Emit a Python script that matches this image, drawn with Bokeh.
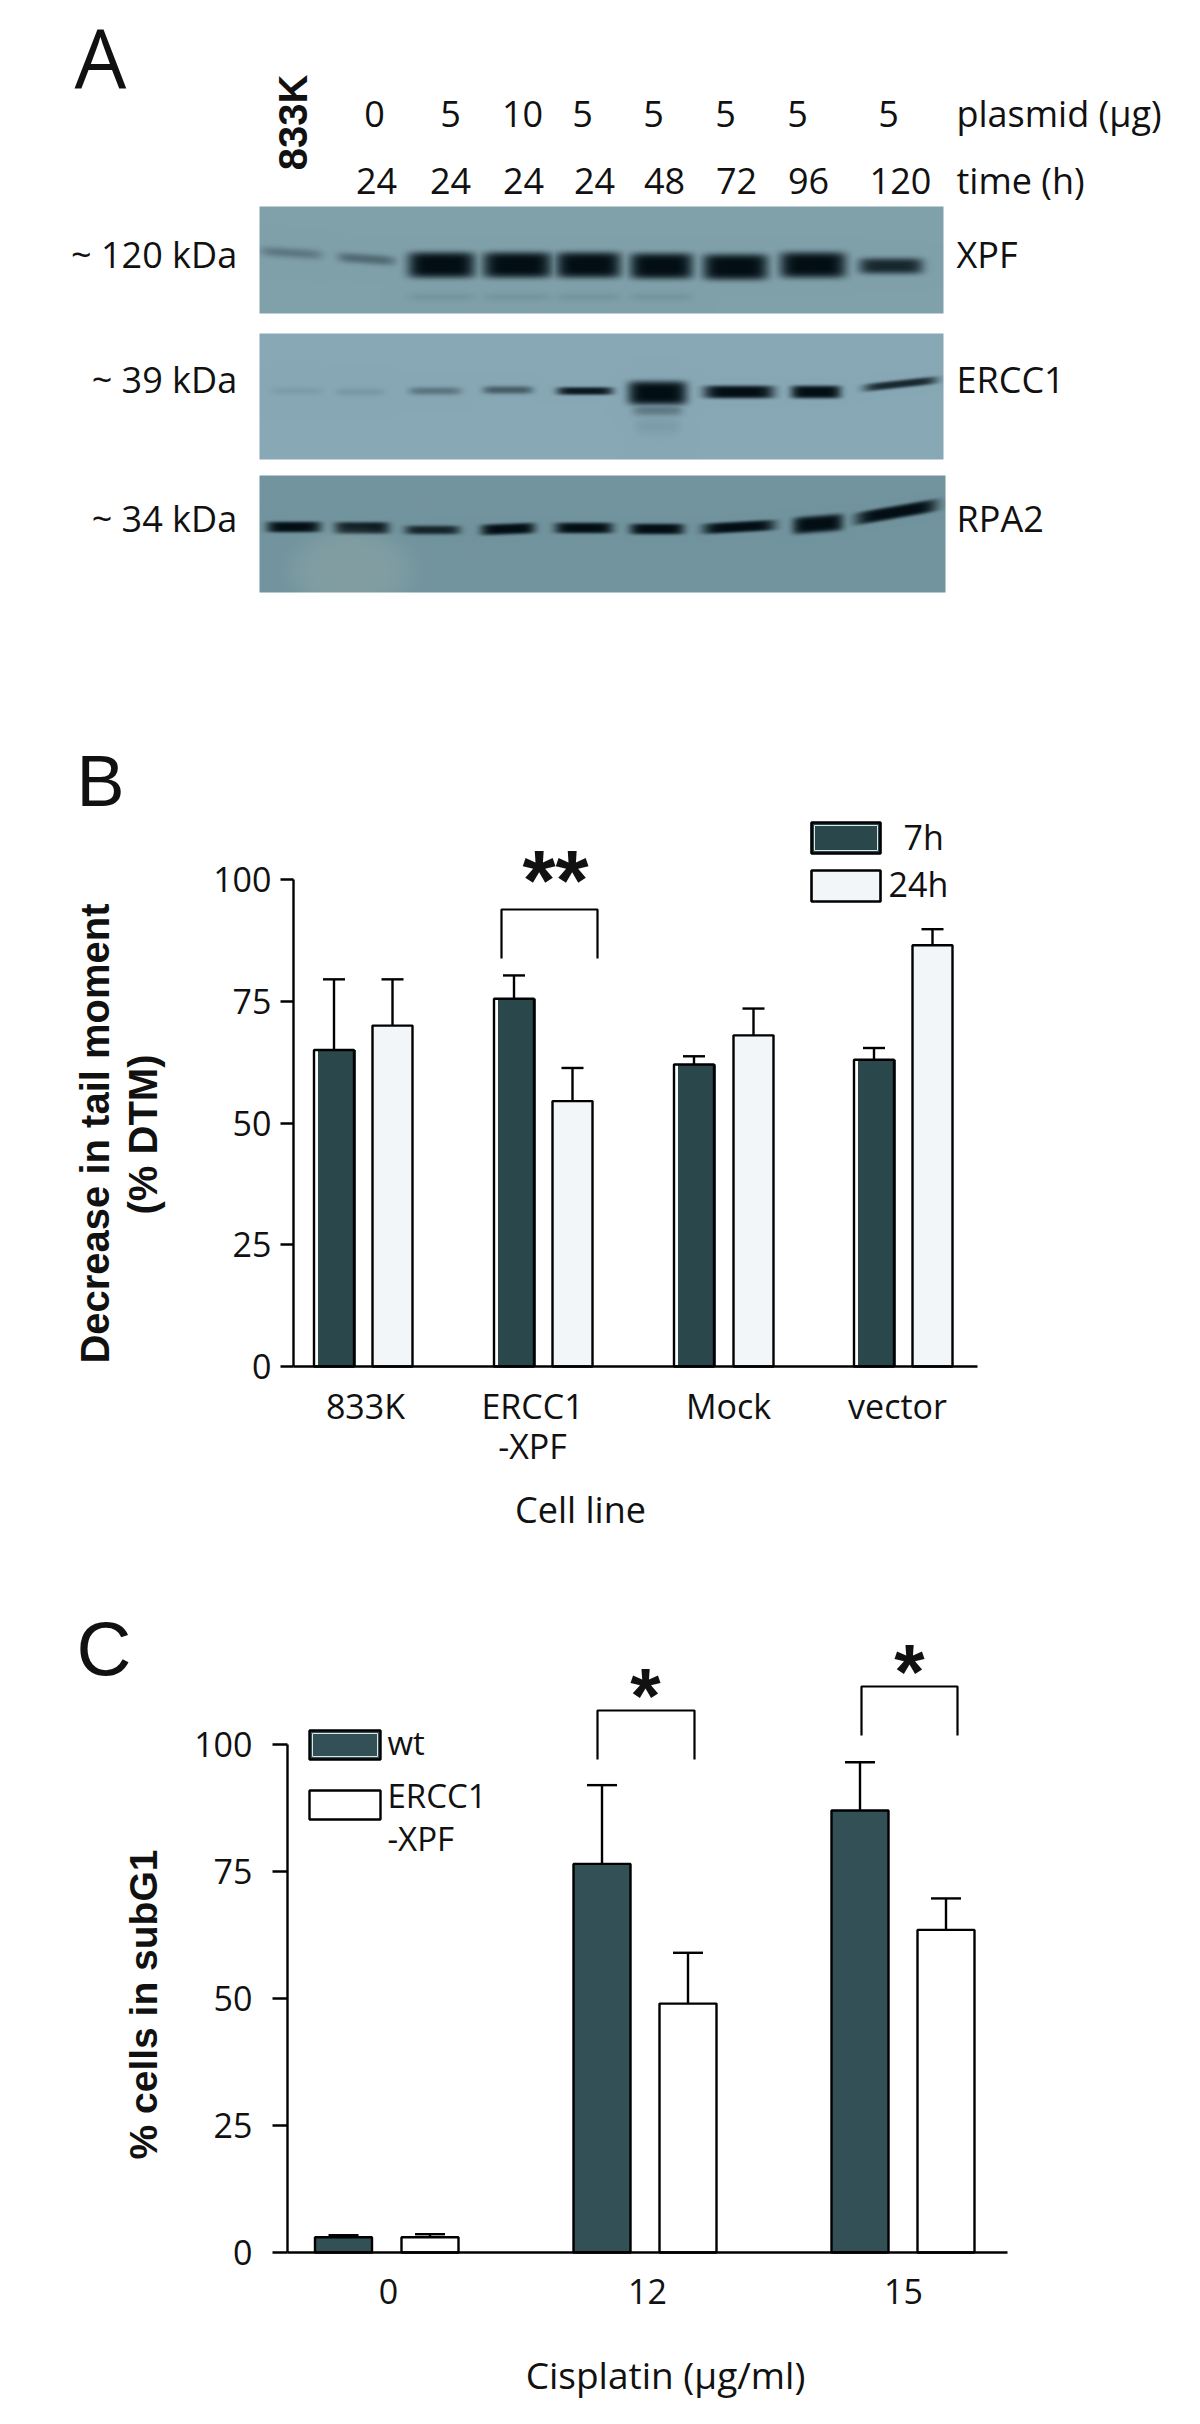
import numpy as np
from bokeh.embed import file_html
from bokeh.layouts import column
from bokeh.models import FixedTicker, Label, Range1d
from bokeh.plotting import figure
from bokeh.core.properties import value
from bokeh.resources import INLINE

# ---------- data ----------
plasmid = ["0", "5", "10", "5", "5", "5", "5", "5"]
time_h = ["24", "24", "24", "24", "48", "72", "96", "120"]
blot_names = ["XPF", "ERCC1", "RPA2"]
kda_labels = ["~ 120  kDa", "~ 39  kDa", "~ 34  kDa"]
xpf_intensity = [0.18, 0.24, 1.0, 1.0, 1.0, 1.0, 0.98, 0.92, 0.55]
ercc1_intensity = [0.05, 0.07, 0.22, 0.32, 0.62, 1.0, 0.95, 0.97, 0.55]
rpa2_intensity = [0.92, 0.92, 0.55, 0.85, 0.88, 0.85, 0.88, 1.0, 1.0]

cell_lines = ["833K", "ERCC1\n-XPF", "Mock", "vector"]
tail_7h = [65, 75.5, 62, 63]
tail_24h = [70, 54.5, 68, 86.5]
tail_7h_top = [79.5, 80.3, 63.7, 65.4]
tail_24h_top = [79.5, 61.3, 73.5, 89.8]

doses = ["0", "12", "15"]
subg1_wt = [3, 76.5, 87]
subg1_ercc = [3, 49, 63.5]
subg1_wt_top = [3.4, 92, 96.5]
subg1_ercc_top = [3.6, 59, 69.7]
y_ticks = [0, 25, 50, 75, 100]

# ---------- style ----------
FONT = "Open Sans"
BOLD = "Liberation Sans"
DARK_B = "#2a484c"
DARK_C = "#325056"
PAGE = 0
SIZE = 36
TICK = "34px"
MID = {FONT: 0.388, BOLD: 0.347}


def base(height, xr, yr):
    p = figure(width=1184, height=height, x_range=xr, y_range=yr, toolbar_location=None,
               output_backend="svg", min_border=0, outline_line_color=None,
               background_fill_color="white", border_fill_color="white")
    p.grid.visible = False
    return p


def label(p, ymap, x, py, text, size=SIZE, font=FONT, style="normal", align="left", angle=0):
    """Place a text by its baseline, given in page pixels."""
    shift = MID[font] * size
    if angle:
        x = x - shift
    else:
        py = py - shift
    p.add_layout(Label(x=x, y=ymap(py), text=text, text_font=font, text_font_size=f"{size}px", text_font_style=style,
                       text_align=align, text_baseline="middle", angle=angle, text_color="#111111"))


def style_axes(p, tick_labels, y_tick, y_standoff, x_standoff, x_axis_at, y_axis_at, x_end):
    ax_x, ax_y = p.xaxis[0], p.yaxis[0]
    ax_x.fixed_location = x_axis_at
    ax_y.fixed_location = y_axis_at
    ax_x.bounds = (y_axis_at, x_end)
    ax_y.bounds = (0, 100)
    ax_y.ticker = FixedTicker(ticks=y_ticks)
    ticks = list(tick_labels)
    ax_x.ticker = FixedTicker(ticks=ticks)
    ax_x.major_label_overrides = tick_labels
    ax_x.major_tick_line_color = None
    ax_x.minor_tick_line_color = None
    ax_y.minor_tick_line_color = None
    ax_y.major_tick_in = 0
    ax_y.major_tick_out = y_tick
    ax_y.major_tick_line_color = "black"
    ax_y.major_tick_line_width = 2.4
    ax_y.major_label_standoff = y_standoff
    ax_x.major_label_standoff = x_standoff
    ax_x.major_label_text_line_height = 0.87
    for ax in (ax_x, ax_y):
        ax.axis_line_color = "black"
        ax.axis_line_width = 2.4
        ax.major_label_text_font = FONT
        ax.major_label_text_font_size = TICK
        ax.major_label_text_color = "#111111"


# ---------- panel A ----------
AH = 682
pa = base(AH, Range1d(PAGE, PAGE + 1184), Range1d(PAGE + AH, PAGE))
pa.axis.visible = False


def band_image(w, h, bg, bands, extra=None):
    yy, xx = np.mgrid[0:h, 0:w].astype(float)
    dark = np.zeros((h, w))
    for b in bands:
        cx, cy, bw, bh, i, tilt = b
        u = (xx - cx) / (bw / 2)
        v = (yy - cy - tilt * u) / (bh / 2)
        dark = np.maximum(dark, np.clip(i * 1.5, 0, 1.0) * np.exp(-np.abs(u) ** 6) * np.exp(-np.abs(v) ** (1.6 + 3.0 * i)))
    c0 = np.array(bg, float)
    c1 = np.array([2, 14, 20], float)
    rgb = c0[None, None, :] * (1 - dark[..., None]) + c1[None, None, :] * dark[..., None]
    if extra is not None:
        rgb = extra(xx, yy, rgb)
    img = np.zeros((h, w), dtype=np.uint32)
    view = img.view(dtype=np.uint8).reshape((h, w, 4))
    view[..., :3] = np.clip(rgb, 0, 255).astype(np.uint8)
    view[..., 3] = 255
    return img


lane_l = [260, 337, 407, 482, 555, 629, 702, 779, 858]
lane_r = [321, 394, 474, 551, 620, 692, 767, 845, 922]
X0 = 259
bands = []
for k, i in enumerate(xpf_intensity):
    cx = (lane_l[k] + lane_r[k]) / 2 - X0
    cy = [46, 52, 58, 58, 58, 59, 60, 58, 59][k]
    hh = 10 if i < 0.3 else (16 if i < 0.9 else 26)
    bands.append((cx, cy, lane_r[k] - lane_l[k], hh, i, 2 if k < 2 else 0))
    if 2 <= k <= 5:
        bands.append((cx, 90, lane_r[k] - lane_l[k], 9, 0.05, 0))
img1 = band_image(684, 107, (128, 160, 170), bands)
l2 = [270, 335, 408, 482, 556, 627, 703, 790, 863]
r2 = [322, 384, 460, 532, 612, 686, 773, 840, 936]
bands = []
for k, i in enumerate(ercc1_intensity):
    cx = (l2[k] + r2[k]) / 2 - X0
    cy = [57, 58, 57, 56, 57, 59, 58, 58, 50][k]
    hh = 8 if i < 0.7 else (24 if k == 5 else 13)
    bands.append((cx, cy, r2[k] - l2[k], hh, i, -4 if k == 8 else 0))
bands.append(((l2[5] + r2[5]) / 2 - X0, 76, 50, 12, 0.2, 0))
bands.append(((l2[5] + r2[5]) / 2 - X0, 92, 45, 18, 0.05, 0))
img2 = band_image(684, 126, (136, 168, 182), bands)
l3 = [266, 334, 404, 480, 554, 629, 702, 792, 855]
r3 = [320, 388, 459, 534, 612, 683, 774, 842, 936]
bands = []
for k, i in enumerate(rpa2_intensity):
    cx = (l3[k] + r3[k]) / 2 - X0
    cy = [51, 52, 54, 53, 52, 53, 51, 48, 36][k]
    hh = [11, 12, 9, 11, 11, 11, 11, 17, 13][k]
    bands.append((cx, cy, r3[k] - l3[k], hh, i, [0, 0, 0, -1, 0, 0, -2, -2, -7][k]))


def blob(xx, yy, rgb):
    u = (xx - 91) / 62
    v = (yy - 95) / 42
    m = np.exp(-(u ** 2 + v ** 2) ** 2.5)[..., None] * 0.5
    return rgb * (1 - m) + np.array([145, 168, 168.0])[None, None, :] * m


img3 = band_image(686, 117, (114, 148, 158), bands, blob)
for img, x, ytop, w, h in [(img1, 259, 206, 684, 107), (img2, 259, 333, 684, 126), (img3, 259, 475, 686, 117)]:
    pa.image_rgba(image=[img], x=x, y=ytop, dw=w, dh=h)

plas_x = [374, 450, 522, 582, 653, 725, 797, 888]
time_x = [376, 450, 523, 594, 664, 736, 808, 900]
ROW = MID[FONT] * SIZE
common = dict(text_font=value(FONT), text_font_size=f"{SIZE}px", text_color="#111111", text_baseline="middle")
pa.text(x=plas_x, y=[127 - ROW] * 8, text=plasmid, text_align="center", **common)
pa.text(x=time_x, y=[194 - ROW] * 8, text=time_h, text_align="center", **common)
pa.text(x=[956, 956], y=[127 - ROW, 194 - ROW], text=["plasmid (\u00b5g)", "time (h)"], **common)
pa.text(x=[956] * 3, y=[268 - ROW, 393 - ROW, 532 - ROW], text=blot_names, **common)
pa.text(x=[246] * 3, y=[268 - ROW, 393 - ROW, 532 - ROW], text=kda_labels, text_align="right", **common)
same = lambda v: v
label(pa, same, 306, 122, "833K", size=40, font=BOLD, style="bold", align="center", angle=np.pi / 2)
label(pa, same, 74, 88, "A", size=82)

# ---------- panel B ----------
BT = PAGE + AH
BH = 900
Y0B, SB = 1366, 4.87
yB = lambda py: (Y0B - py) / SB
pb = base(BH, Range1d(PAGE, PAGE + 1184), Range1d(yB(BT + BH), yB(BT)))
x7 = [313.5, 493.5, 673.5, 853.5]
x24 = [372, 552, 733, 912]
BW = 40


def error(p, xs, tops, vals, cap, color="black"):
    p.segment(x0=xs, x1=xs, y0=vals, y1=tops, line_color=color, line_width=2.4)
    p.segment(x0=[x - cap for x in xs], x1=[x + cap for x in xs], y0=tops, y1=tops, line_color=color, line_width=2.4)


c7 = [x + BW / 2 for x in x7]
c24 = [x + BW / 2 for x in x24]
error(pb, c7, tail_7h_top, tail_7h, 11)
error(pb, c24, tail_24h_top, tail_24h, 11)
pb.vbar(x=[c + 3 for c in c7], width=BW - 2, bottom=0, top=tail_7h, fill_color=DARK_B, line_color=None)
pb.vbar(x=c7, width=BW, bottom=0, top=tail_7h, fill_color=None, line_color="black", line_width=2.4)
pb.vbar(x=c24, width=BW, bottom=0, top=tail_24h, fill_color="#f3f6f9", line_color="black", line_width=2.4)
pb.quad(left=[811], right=[880], top=[yB(822)], bottom=[yB(853)], fill_color=DARK_B, line_color="black", line_width=2.6)
pb.quad(left=[814], right=[877], top=[yB(825)], bottom=[yB(850)], fill_color=None, line_color="#dfe6e6", line_width=1)
pb.quad(left=[811], right=[880], top=[yB(870)], bottom=[yB(901)], fill_color="#f3f6f9", line_color="black", line_width=2.6)
label(pb, yB, 903, 850, "7h", size=34)
label(pb, yB, 888, 897, "24h", size=34)
pb.line(x=[501, 501, 597, 597], y=[yB(958), yB(909), yB(909), yB(958)], line_color="black", line_width=2.2)
label(pb, yB, 555, 909, "**", size=85, font=BOLD, style="bold", align="center")
style_axes(pb, dict(zip([365, 532, 728, 897], cell_lines)), 13, 9, 10, 0, 293, 977)
label(pb, yB, 580, 1523, "Cell line", align="center")
label(pb, yB, 76, 805, "B", size=72, font=BOLD)
label(pb, yB, 108, 1133, "Decrease in tail moment", size=40, font=BOLD, style="bold", align="center", angle=np.pi / 2)
label(pb, yB, 156, 1134, "(% DTM)", size=40, font=BOLD, style="bold", align="center", angle=np.pi / 2)

# ---------- panel C ----------
CT = BT + BH
CH = 2416 - CT
Y0C, SC = 2252, 5.08
yC = lambda py: (Y0C - py) / SC
pc = base(CH, Range1d(PAGE, PAGE + 1184), Range1d(yC(CT + CH), yC(CT)))
xw = [343, 601.5, 859.5]
xe = [429.5, 687.5, 945.5]
CW = 57
error(pc, xw, subg1_wt_top, subg1_wt, 15)
error(pc, xe, subg1_ercc_top, subg1_ercc, 15)
pc.vbar(x=xw, width=CW, bottom=0, top=subg1_wt, fill_color=DARK_C, line_color="black", line_width=2.4)
pc.vbar(x=xe, width=CW, bottom=0, top=subg1_ercc, fill_color="white", line_color="black", line_width=2.4)
pc.quad(left=[309], right=[380], top=[yC(1730)], bottom=[yC(1759)], fill_color=DARK_C, line_color="black", line_width=2.4)
pc.quad(left=[312], right=[377], top=[yC(1733)], bottom=[yC(1756)], fill_color=None, line_color="#dfe6e6", line_width=1)
pc.quad(left=[309], right=[380], top=[yC(1790)], bottom=[yC(1819)], fill_color="white", line_color="black", line_width=2.4)
label(pc, yC, 387, 1755, "wt", size=33)
label(pc, yC, 387, 1808, "ERCC1", size=33)
label(pc, yC, 387, 1851, "-XPF", size=33)
for l, r, t, b in [(597, 694, 1710, 1759), (861, 957, 1686, 1735)]:
    pc.line(x=[l, l, r, r], y=[yC(b), yC(t), yC(t), yC(b)], line_color="black", line_width=2.2)
label(pc, yC, 645, 1723, "*", size=78, font=BOLD, style="bold", align="center")
label(pc, yC, 909, 1699, "*", size=78, font=BOLD, style="bold", align="center")
style_axes(pc, dict(zip([388, 647, 903], doses)), 15, 20, 20, 0, 287, 1007)
label(pc, yC, 665, 2388, "Cisplatin (\u00b5g/ml)", size=37, align="center")
label(pc, yC, 76, 1674, "C", size=76, font=BOLD)
label(pc, yC, 157, 2004, "% cells in subG1", size=39, font=BOLD, style="bold", align="center", angle=np.pi / 2)

page = column(pa, pb, pc, spacing=0)
open("out.html", "w").write(file_html(page, INLINE))
